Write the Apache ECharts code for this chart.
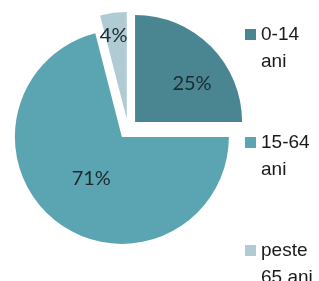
<!DOCTYPE html>
<html>
<head>
<meta charset="utf-8">
<script src="https://cdn.jsdelivr.net/npm/echarts@6/dist/echarts.min.js"></script>
<style>
  html, body { margin: 0; padding: 0; background: #fff; }
  #chart { width: 319px; height: 281px; }
</style>
</head>
<body>
<div id="chart"></div>
<script>
// grupe de varsta
var categories = ['0-14\nani', '15-64\nani', 'peste\n65 ani'];
var values = [25, 71, 4];
var colors = ['#4a8692', '#5aa5b1', '#b0cbd3'];
// mutare etichete (Excel "best fit")
var labelOffsets = [[17, 2], [4, -3], [-6, -27]];

var chart = echarts.init(document.getElementById('chart'));

var data = categories.map(function (name, i) {
    return {
        name: name,
        value: values[i],
        selected: true,
        itemStyle: { color: colors[i] }
    };
});

// patrat sus, in dreptul primului rand din text
var legendIcon = 'path://M0,0h0.01v0.01h-0.01z M0,8h11v11h-11z M0,53.99h0.01v0.01h-0.01z';

chart.setOption({
    animation: false,
    legend: {
        orient: 'vertical',
        left: 245,
        top: 21,
        height: 320,
        padding: 0,
        itemWidth: 11,
        itemHeight: 54,
        itemGap: 54,
        icon: legendIcon,
        selectedMode: false,
        textStyle: {
            fontFamily: 'Liberation Sans',
            fontSize: 19,
            lineHeight: 27,
            color: '#1a1a1a'
        },
        data: categories
    },
    series: [{
        type: 'pie',
        center: [128, 129],
        radius: 107,
        startAngle: 90,
        clockwise: true,
        selectedMode: 'multiple',
        selectedOffset: 10,
        silent: true,
        label: {
            show: true,
            position: 'inside',
            formatter: '{c}%',
            fontFamily: 'Lato',
            fontSize: 20,
            color: '#1e2a30'
        },
        labelLayout: function (params) {
            var o = labelOffsets[params.dataIndex];
            return { dx: o[0], dy: o[1] };
        },
        labelLine: { show: false },
        emphasis: { disabled: true },
        data: data
    }]
});
</script>
</body>
</html>
